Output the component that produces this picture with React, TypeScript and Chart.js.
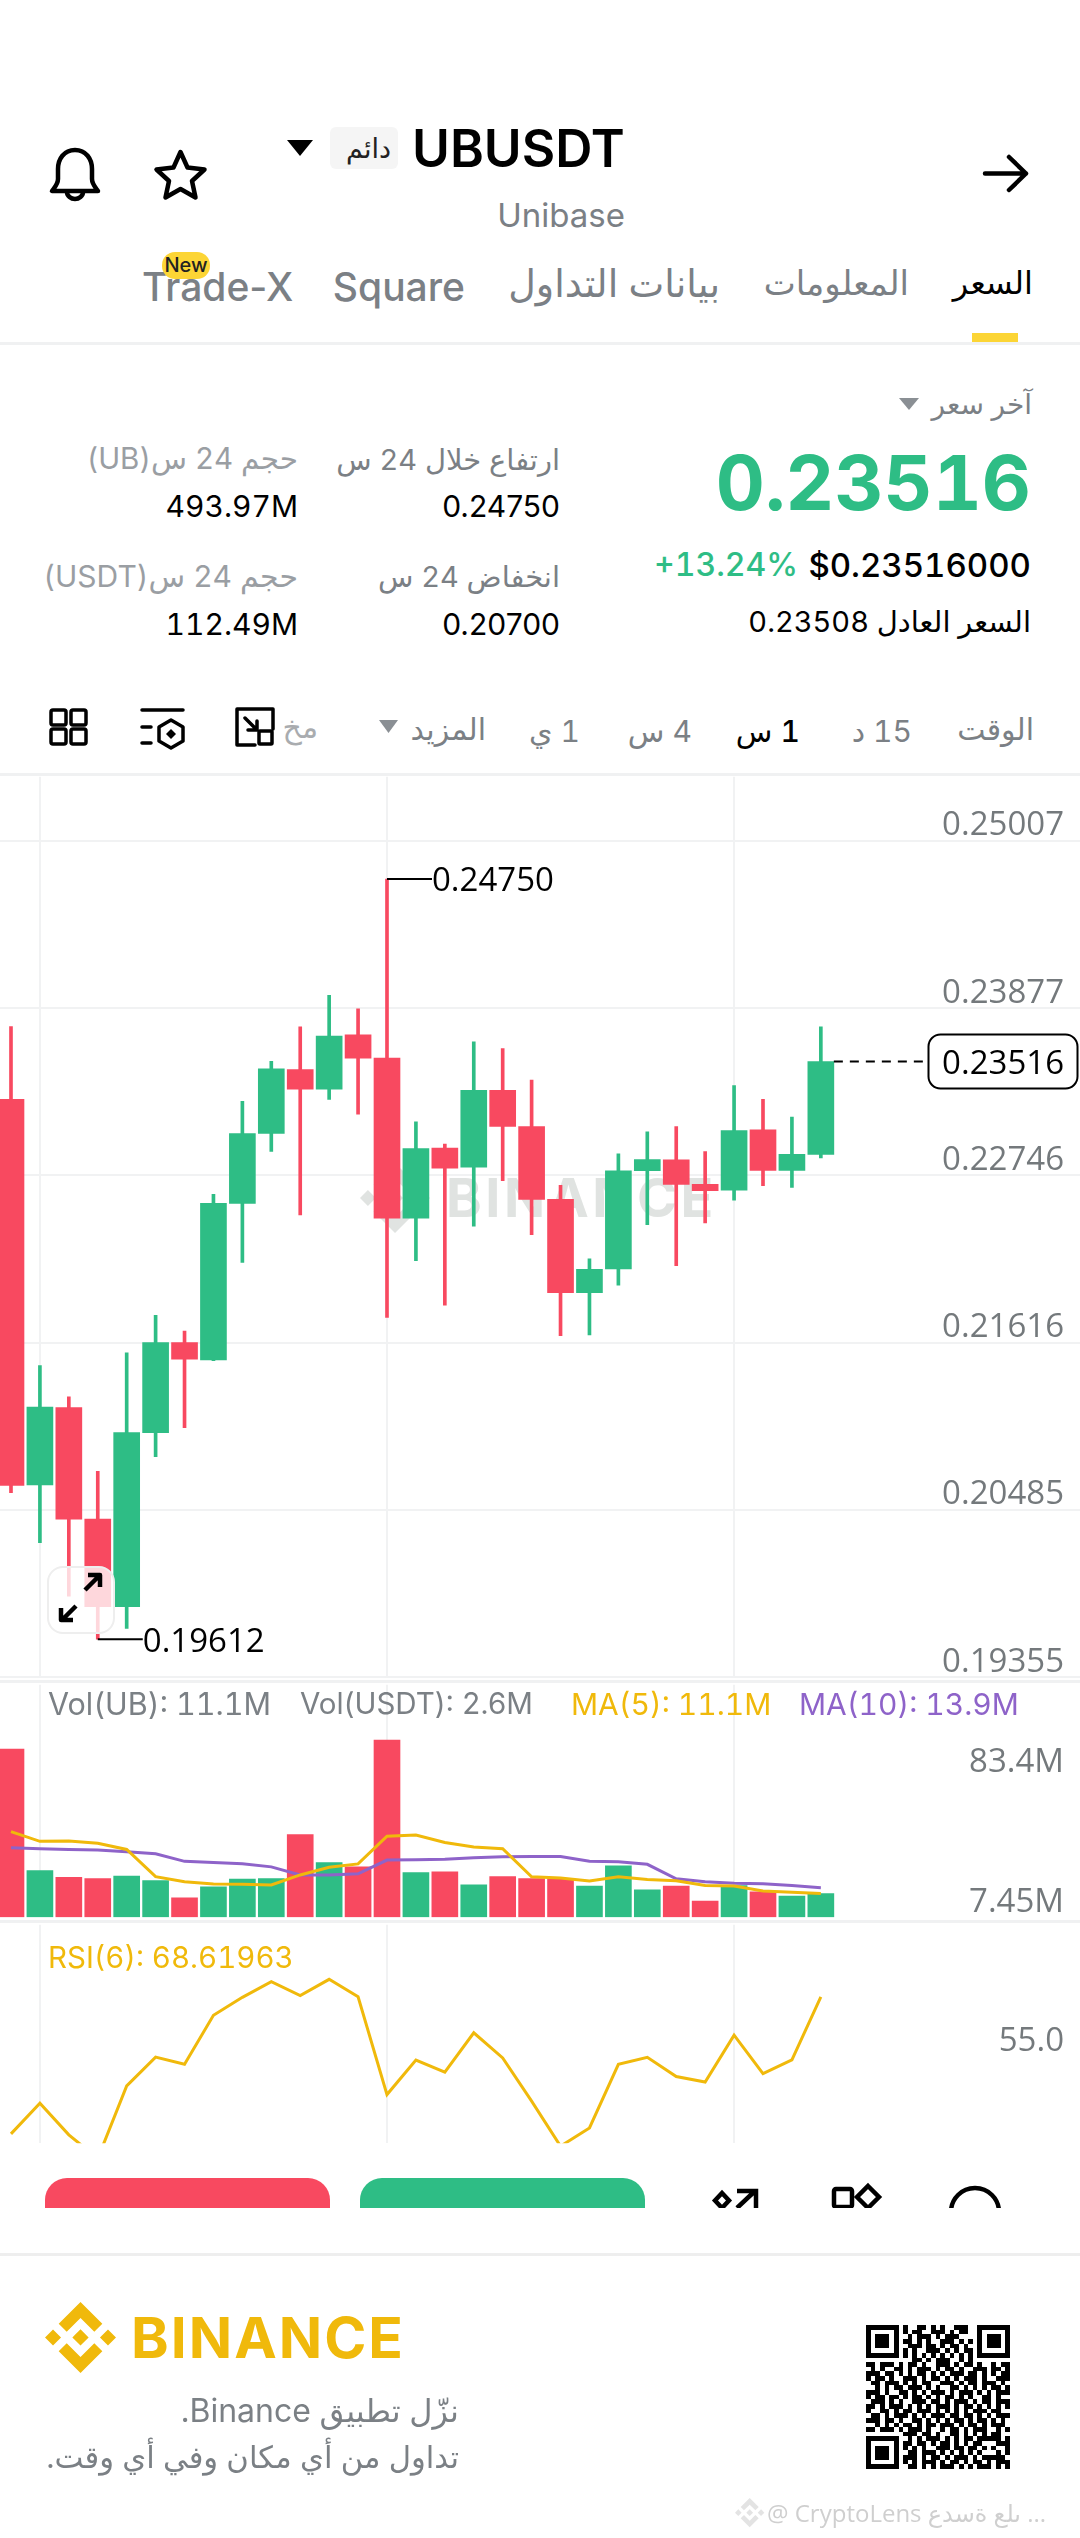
import React, { useEffect, useRef } from "react";
import { Chart, registerables } from "chart.js";

Chart.register(...registerables);

const UP = "#2ebd85";
const DOWN = "#f84960";
const GRID = "#f1f2f3";
const AXIS_TEXT = "#74797c";

// Price panel, one value per candle
const opens = [0.2326, 0.20655, 0.21178, 0.20423, 0.19831, 0.21008, 0.21616, 0.215, 0.22557, 0.2303, 0.23461, 0.23329, 0.23696, 0.23539, 0.22458, 0.22932, 0.22802, 0.23321, 0.23077, 0.22584, 0.21954, 0.22114, 0.22778, 0.22852, 0.22686, 0.22646, 0.23055, 0.2278, 0.22889];
const highs = [0.23752, 0.21462, 0.2125, 0.20747, 0.21547, 0.21801, 0.21694, 0.22619, 0.23247, 0.23517, 0.2375, 0.23964, 0.23872, 0.2475, 0.23108, 0.22959, 0.23649, 0.23604, 0.2339, 0.22679, 0.22183, 0.22892, 0.23041, 0.23077, 0.22907, 0.23354, 0.2326, 0.2314, 0.2375];
const lows = [0.20602, 0.20265, 0.19903, 0.19612, 0.19685, 0.20845, 0.21042, 0.21495, 0.22159, 0.22909, 0.2248, 0.2326, 0.2316, 0.21786, 0.2217, 0.2187, 0.22403, 0.22711, 0.22346, 0.21663, 0.21669, 0.22004, 0.22413, 0.22136, 0.22425, 0.22579, 0.22677, 0.22666, 0.22865];
const closes = [0.20651, 0.2118, 0.20423, 0.19831, 0.21008, 0.21616, 0.21504, 0.22557, 0.2303, 0.23466, 0.23329, 0.23689, 0.23539, 0.22458, 0.22927, 0.22795, 0.23321, 0.23077, 0.22584, 0.21954, 0.22112, 0.22778, 0.22854, 0.22686, 0.22644, 0.2305, 0.2278, 0.22889, 0.23516];
const priceTicks = [0.25007, 0.23877, 0.22746, 0.21616, 0.20485, 0.19355];
const lastPrice = 0.23516;
const highLabel = { index: 13, value: 0.2475, text: "0.24750" };
const lowLabel = { index: 3, value: 0.19612, text: "0.19612" };

// Volume panel, millions
const volumes = [79.1, 22, 18.8, 18.2, 19.4, 17.2, 9.1, 14.3, 17.9, 18.2, 38.9, 25.7, 23.7, 83.4, 21, 21.4, 15.2, 19.1, 18.2, 18.1, 14.6, 24.2, 12.9, 14.7, 7.6, 14.9, 12, 10, 11.1];
const ma5 = [40.3, 35.7, 35.9, 34.8, 31.9, 19.1, 16.7, 15.6, 15.5, 15.2, 19.9, 23.5, 25.1, 38.1, 38.7, 35.2, 33.1, 32.2, 19, 18.5, 17, 19, 17.8, 17.2, 14.9, 14.7, 12.3, 11.8, 11.1];
const ma10 = [32.7, 32.2, 31.9, 31.6, 30.8, 29.9, 26.3, 25.8, 25.2, 23.7, 19.9, 19.9, 20.4, 26.9, 27, 27.3, 28, 28.4, 28.6, 28.6, 26.3, 26.1, 24.9, 18.1, 16.7, 16, 15.8, 14.9, 13.9];
const volTickAt = [72.7, 6.8];
const volTickLabels = ["83.4M", "7.45M"];

// RSI panel
const rsi6 = [23, 33.2, 22.7, 14.8, 39, 48.6, 46.2, 62.5, 68.5, 73.7, 69.1, 74.5, 68.7, 36.1, 47.6, 43.6, 56.7, 48.3, 33.9, 18.9, 25, 46.2, 48.5, 42.1, 40.3, 55.9, 43.1, 47.7, 68.62];
const rsiTicks = [55];

const timeGridAt = [1, 13, 25];

// Decorative QR modules
const qrTop = ["#..##.#.#..###.", "#.##..###.#.##.", ".#.###.#.###...", "##.#.#..###.#.#", ".###.##.#.##.#.", "#.#..###.#.#.##", "#.#.#.#.#.#.#.#", "..##.#.###..#.#"];
const qrCenter = [
  "##.###.#.##.#..###.#.##.#..#.##",
  ".#.#..##.#.###.#.##.#..###.##.#",
  "###.##.#.#.##.#.#.###.##.#.#.##",
  "#.##.#..###.#.##.#.#.###.#..###",
  ".##.###.#.#.##..###.#.##.###.#.",
  "..#.#.##.###.#.#..##.#.#.#.##.#",
  "###.#..##.#.#.###.#.###.#.#.###",
  "#.##.##.#.##.#.#.##.#.#..##.#..",
  ".###.#.#..###.##.#.###.#.##.###",
  "##.#.###.#.#.#.###.#.##.#.#.#.#",
  "#..##.#.##.###.#.#.#.#.###.##..",
  ".##.#.###.#.#.###.##.##.#.#.###",
  "###.##.#..##.#.#.#.##.#.##.#.#.",
  "..#.#.#.##.#.##.###.#.##.#.###.",
  "##.###.#.###.#..#.##.#.###..#.#"
];
const qrBottom = ["###.##.#..##.#.#.#.##.", ".#.#.###.#.#.##.#####.#", "##.##.#.##.#.#.##...###", "#.#.#..###.##.##.#.#..#", ".##.###.#.#.#.#.#...#.#", "###.#.##.#.###.#.#####.", "#.#.###.#.##.#.##.#.###", ".##.#.#.###.#.#.###.#.#"];
const finderRows = ["#######", "#.....#", "#.###.#", "#.###.#", "#.###.#", "#.....#", "#######", "......."];

function buildQrRows(): string[] {
  const rows: string[] = [];
  qrTop.forEach((m, i) => rows.push(finderRows[i] + "." + m + "." + finderRows[i]));
  qrCenter.forEach((r) => rows.push(r));
  qrBottom.forEach((m, i) => rows.push(finderRows[i === 0 ? 7 : i - 1] + "." + m));
  return rows;
}

const LOGO = "M38.73 53.2l24.59-24.58 24.6 24.6 14.3-14.31L63.32 0 24.43 38.9l14.3 14.3zM0 63.31l14.3-14.31 14.31 14.31-14.31 14.3zM38.73 73.41l24.59 24.59 24.6-24.6 14.31 14.29-38.9 38.91-38.91-38.88-.02-.02zM98 63.31l14.3-14.3 14.31 14.3-14.31 14.3zM77.83 63.3L63.32 48.78 52.59 59.51l-1.24 1.23-2.54 2.54 14.51 14.5 14.51-14.47z";

const isUp = (i: number) => closes[i] >= opens[i];
const candleColors = opens.map((_, i) => (isUp(i) ? UP : DOWN));

function commonOptions(yMin: number, yMax: number, yTicks: number[], labels: string[], labelOffset: number): any {
  return {
    responsive: false,
    animation: false,
    events: [],
    layout: { padding: 0 },
    plugins: { legend: { display: false }, tooltip: { enabled: false } },
    scales: {
      x: {
        type: "linear",
        offset: false,
        min: -0.38,
        max: 36.96,
        afterBuildTicks: (a: any) => { a.ticks = timeGridAt.map((value) => ({ value })); },
        ticks: { display: false, autoSkip: false },
        grid: { offset: false, color: GRID, lineWidth: 2, drawTicks: false },
        border: { display: false },
      },
      y: {
        type: "linear",
        position: "right",
        min: yMin,
        max: yMax,
        afterBuildTicks: (a: any) => { a.ticks = yTicks.map((value) => ({ value })); },
        ticks: {
          mirror: true,
          padding: -16,
          autoSkip: false,
          labelOffset,
          color: AXIS_TEXT,
          font: { family: "'Open Sans'", size: 33 },
          callback: (_: any, i: number) => labels[i],
        },
        grid: { display: false, drawTicks: false },
        border: { display: false },
      },
    },
  };
}

const pricePlugin = {
  id: "priceMarks",
  beforeDatasetsDraw(chart: any) {
    const ctx = chart.ctx;
    ctx.save();
    ctx.fillStyle = "#e0e3e1";
    ctx.translate(360, 1163 - 773);
    ctx.scale(70 / 126.61, 70 / 126.61);
    ctx.fill(new Path2D(LOGO));
    ctx.restore();
    ctx.save();
    ctx.fillStyle = "#e0e3e1";
    ctx.font = "700 54px Inter";
    (ctx as any).letterSpacing = "3.5px";
    ctx.textBaseline = "alphabetic";
    ctx.fillText("BINANCE", 446, 1217 - 773);
    ctx.restore();
  },
  afterDatasetsDraw(chart: any) {
    const ctx = chart.ctx;
    const { x, y } = chart.scales;
    ctx.save();
    ctx.font = "33px 'Open Sans'";
    ctx.textBaseline = "middle";
    ctx.fillStyle = "#000";
    ctx.strokeStyle = "#000";
    ctx.lineWidth = 2;
    [highLabel, lowLabel].forEach((m) => {
      const px = x.getPixelForValue(m.index);
      const py = y.getPixelForValue(m.value);
      ctx.beginPath();
      ctx.moveTo(px, py);
      ctx.lineTo(px + 45, py);
      ctx.stroke();
      ctx.fillText(m.text, px + 45, py + 3);
    });
    const lastY = y.getPixelForValue(lastPrice);
    const lastX = x.getPixelForValue(closes.length - 1);
    ctx.setLineDash([9, 7]);
    ctx.beginPath();
    ctx.moveTo(lastX + 13, lastY);
    ctx.lineTo(924, lastY);
    ctx.stroke();
    ctx.setLineDash([]);
    ctx.beginPath();
    ctx.roundRect(928.5, lastY - 27, 149, 54, 12);
    ctx.fillStyle = "#fff";
    ctx.fill();
    ctx.stroke();
    ctx.fillStyle = "#000";
    ctx.textAlign = "right";
    ctx.fillText(lastPrice.toFixed(5), 1064, lastY + 3);
    ctx.restore();
  },
};

function T(p: any) {
  return (
    <div
      style={{
        position: "absolute",
        right: p.r != null ? 1080 - p.r : undefined,
        left: p.l,
        top: p.cy,
        transform: "translateY(-50%)",
        fontSize: p.s,
        color: p.c || "#000",
        fontWeight: p.w || 400,
        lineHeight: 1,
        whiteSpace: "nowrap",
        direction: p.rtl ? "rtl" : "ltr",
        fontVariantNumeric: p.prop ? "normal" : "tabular-nums",
        ...p.style,
      }}
    >
      {p.children}
    </div>
  );
}

function Rule({ y, h = 2, c = "#f0f1f2", l = 0, w = 1080 }: any) {
  return <div style={{ position: "absolute", left: l, top: y, width: w, height: h, background: c }} />;
}

export default function App() {
  const mainRef = useRef<HTMLCanvasElement>(null);
  const volRef = useRef<HTMLCanvasElement>(null);
  const rsiRef = useRef<HTMLCanvasElement>(null);

  useEffect(() => {
    const idx = opens.map((_, i) => i);
    const mainOpts = commonOptions(0.19355, 0.254406, priceTicks, priceTicks.map((v) => v.toFixed(5)), -15);
    mainOpts.scales.y.grid = { display: true, color: GRID, lineWidth: 2, drawTicks: false };
    const main = new Chart(mainRef.current as any, {
      type: "bar",
      data: {
        datasets: [
          { data: idx.map((i) => ({ x: i, y: [lows[i], highs[i]] })), backgroundColor: candleColors, barThickness: 3, grouped: false, order: 2 },
          { data: idx.map((i) => ({ x: i, y: [opens[i], closes[i]] })), backgroundColor: candleColors, barThickness: 26, grouped: false, order: 1 },
        ] as any,
      },
      options: mainOpts,
      plugins: [pricePlugin],
    });

    const vol = new Chart(volRef.current as any, {
      type: "bar",
      data: {
        datasets: [
          { type: "line", data: idx.map((i) => ({ x: i, y: ma10[i] })), borderColor: "#8e63c9", borderWidth: 3, pointRadius: 0, tension: 0, order: 1 },
          { type: "line", data: idx.map((i) => ({ x: i, y: ma5[i] })), borderColor: "#f0b90b", borderWidth: 3, pointRadius: 0, tension: 0, order: 0 },
          { data: idx.map((i) => ({ x: i, y: volumes[i] })), backgroundColor: candleColors, barThickness: 26, grouped: false, order: 2 },
        ] as any,
      },
      options: commonOptions(0, 109.4, volTickAt, volTickLabels, 0),
    });

    const rsi = new Chart(rsiRef.current as any, {
      type: "line",
      data: {
        datasets: [
          { data: idx.map((i) => ({ x: i, y: rsi6[i] })), borderColor: "#f0b90b", borderWidth: 3, pointRadius: 0, tension: 0 },
        ] as any,
      },
      options: commonOptions(19.9, 92.67, rsiTicks, rsiTicks.map((v) => v.toFixed(1)), 4),
    });

    return () => {
      main.destroy();
      vol.destroy();
      rsi.destroy();
    };
  }, []);

  const qr = buildQrRows();
  const qrSize = 144 / 31;
  const GRAY = "#7b8085";
  const LIGHT = "#9a9ea3";

  return (
    <div style={{ position: "absolute", left: 0, top: 0, width: 1080, height: 2538, overflow: "hidden", background: "#fff", fontFamily: "Inter, 'DejaVu Sans', sans-serif" }}>
      <Rule y={342} h={3} />
      <Rule y={773} h={3} />
      <Rule y={1680} h={3} />
      <Rule y={1920} h={3} />
      <Rule y={2253} h={3} c="#eeeeee" />
      <div style={{ position: "absolute", left: 972, top: 333, width: 46, height: 9, background: "#fcd535" }} />

      {/* Header */}
      <div style={{ position: "absolute", left: 330, top: 127, width: 68, height: 42, background: "#f5f5f5", borderRadius: 6 }} />
      <T l={346} cy={148} s={27} c="#222" rtl>دائم</T>
      <T l={412} cy={149} s={51.500} w={600}>UBUSDT</T>
      <T r={625} cy={215} s={33} c={GRAY}>Unibase</T>
      <T r={1033} cy={283} s={32}>السعر</T>
      <T r={909} cy={283} s={34} c={GRAY}>المعلومات</T>
      <T r={720} cy={283} s={38} c={GRAY}>بيانات التداول</T>
      <T r={465} cy={286} s={39} w={500} c={GRAY} prop>Square</T>
      <T l={142} cy={286} s={39} w={500} c={GRAY} prop>Trade-X</T>
      <div style={{ position: "absolute", left: 162, top: 252, width: 48, height: 27, background: "#fcd535", borderRadius: 13, textAlign: "center", fontSize: 20, lineHeight: "27px", fontWeight: 500, color: "#222" }}>New</div>

      {/* Price block */}
      <T r={1032} cy={404} s={28} c={GRAY} rtl>آخر سعر</T>
      <T r={1031} cy={482} s={76} w={700} c={UP}>0.23516</T>
      <T r={1031} cy={565} s={33} w={500}>$0.23516000</T>
      <T r={798} cy={565} s={32} w={500} c={UP}>+13.24%</T>
      <T r={1031} cy={621} s={29} rtl>السعر العادل 0.23508</T>
      <T r={560} cy={459} s={29} c={GRAY} rtl>ارتفاع خلال 24 س</T>
      <T r={560} cy={506} s={30} prop>0.24750</T>
      <T r={298} cy={459} s={29.500} c={LIGHT} rtl>حجم 24 س(UB)</T>
      <T r={298} cy={506} s={30}>493.97M</T>
      <T r={560} cy={576} s={29} c={GRAY} rtl>انخفاض 24 س</T>
      <T r={560} cy={624} s={30} prop>0.20700</T>
      <T r={298} cy={576} s={30} c={LIGHT} rtl>حجم 24 س(USDT)</T>
      <T r={298} cy={624} s={30}>112.49M</T>

      {/* Interval row */}
      <T r={1034} cy={729} s={30} c={GRAY} rtl>الوقت</T>
      <T r={912} cy={731} s={30} c={GRAY} rtl>15 د</T>
      <T r={800} cy={731} s={30} w={500} rtl>1 س</T>
      <T r={692} cy={731} s={30} c={GRAY} rtl>4 س</T>
      <T r={580} cy={731} s={30} c={GRAY} rtl>1 ي</T>
      <T r={486} cy={729} s={30} c={GRAY} rtl>المزيد</T>
      <T r={318} cy={727} s={30} c="#a9acaf" rtl>مخ</T>

      {/* Chart panels */}
      <canvas ref={mainRef} width={1080} height={908} style={{ position: "absolute", left: 0, top: 773, width: 1080, height: 908 }} />
      <canvas ref={volRef} width={1080} height={240} style={{ position: "absolute", left: 0, top: 1681, width: 1080, height: 240 }} />
      <canvas ref={rsiRef} width={1080} height={226} style={{ position: "absolute", left: 0, top: 1921, width: 1080, height: 226 }} />

      <T l={48} cy={1704} s={30.500} c={GRAY}>Vol(UB): 11.1M</T>
      <T l={300} cy={1704} s={29.500} c={GRAY} prop>Vol(USDT): 2.6M</T>
      <T l={571} cy={1704} s={30} c="#f0b90b">MA(5): 11.1M</T>
      <T l={799} cy={1704} s={30} c="#8e63c9">MA(10): 13.9M</T>
      <T l={48} cy={1958} s={29.500} c="#f0b90b">RSI(6): 68.61963</T>

      {/* Zoom button */}
      <div style={{ position: "absolute", left: 47, top: 1566, width: 64, height: 64, border: "2px solid #eeeeee", borderRadius: 16, background: "rgba(255,255,255,0.78)" }} />

      {/* Bottom actions */}
      <div style={{ position: "absolute", left: 45, top: 2178, width: 285, height: 30, background: DOWN, borderRadius: "22px 22px 0 0" }} />
      <div style={{ position: "absolute", left: 360, top: 2178, width: 285, height: 30, background: UP, borderRadius: "22px 22px 0 0" }} />

      <svg width={1080} height={2538} viewBox="0 0 1080 2538" style={{ position: "absolute", left: 0, top: 0, pointerEvents: "none" }}>
        <defs>
          <clipPath id="barClip"><rect x="700" y="2170" width="320" height="38" /></clipPath>
        </defs>
        {/* header triangles */}
        <path d="M287 140h26l-13 16z" fill="#000" />
        <path d="M899 398h20l-10 12z" fill="#8a8f94" />
        <path d="M379 720h19l-9.5 13z" fill="#8a8f94" />
        {/* bell */}
        <g fill="none" stroke="#000" strokeWidth="4.5" strokeLinejoin="round" strokeLinecap="round">
          <path d="M75 150c-11 0-17 9-17 19v10c0 5-3 8-6 12h46c-3-4-6-7-6-12v-10c0-10-6-19-17-19z" />
          <path d="M67 192c0 4 4 7 8 7s8-3 8-7" />
          {/* star */}
          <path d="M180.500 152l7 15.500 17 2-12.500 11.500 3.500 16.500-15-8.500-15 8.500 3.500-16.500-12.500-11.500 17-2z" />
          {/* back arrow */}
          <path d="M985 173.500h41M1009 157l17 16.500-17 16.500" />
          {/* interval icons */}
          <g strokeWidth="3.500">
            <rect x="51" y="710" width="15" height="15" rx="2" />
            <rect x="71" y="710" width="15" height="15" rx="2" />
            <rect x="51" y="729" width="15" height="15" rx="2" />
            <rect x="71" y="729" width="15" height="15" rx="2" />
            <path d="M142 710h41M142 727h9M142 743h9" />
            <path d="M171 720l12 7v14l-12 7-12-7v-14z" />
            <path d="M255 745h-18v-36h36v20M245 718l12 12M257 721v9h-9" />
            <rect x="259" y="731" width="13" height="13" rx="1" />
          </g>
          {/* zoom arrows */}
          <g strokeWidth="4.500" strokeLinecap="butt">
            <path d="M85 1590l15-15M88 1575h12v12" />
            <path d="M76 1606l-14 14M61 1608v12h12" />
          </g>
        </g>
        <path d="M171 729l5 5-5 5-5-5z" fill="#000" />
        {/* bottom icons */}
        <g clipPath="url(#barClip)" fill="none" stroke="#000" strokeWidth="4.500">
          <path d="M722 2193l7 7.500-7 7.500-7-7.500z" />
          <path d="M737 2208l18-17M737 2191h19v17" />
          <rect x="834" y="2189" width="18" height="18" rx="2" />
          <path d="M868 2186l11 11-11 11-11-11z" />
          <circle cx="975" cy="2212" r="24" />
        </g>
        {/* footer logo */}
        <g transform="translate(45 2302) scale(0.5608)"><path d={LOGO} fill="#f0b90b" /></g>
        {/* QR */}
        <g fill="#000" shapeRendering="crispEdges">
          {qr.map((row, r) =>
            row.split("").map((ch, c) =>
              ch === "#" ? <rect key={r + "-" + c} x={866 + c * qrSize} y={2325 + r * qrSize} width={qrSize} height={qrSize} /> : null
            )
          )}
        </g>
        {/* page watermark logo */}
        <g transform="translate(735 2498) scale(0.232)" opacity="0.28"><path d={LOGO} fill="#9a9a9a" /></g>
      </svg>

      {/* Footer */}
      <T l={131} cy={2337} s={57} w={700} c="#f0b90b" style={{ letterSpacing: 2 }}>BINANCE</T>
      <T r={459} cy={2411} s={32} c={GRAY} rtl>نزّل تطبيق Binance.</T>
      <T r={459} cy={2457} s={30.700} c={GRAY} rtl>تداول من أي مكان وفي أي وقت.</T>
      <div style={{ position: "absolute", left: 767, top: 2499, fontSize: 24, lineHeight: "28px", color: "#cfcfcf", whiteSpace: "nowrap", direction: "ltr", unicodeBidi: "bidi-override", fontFamily: "'Open Sans', 'DejaVu Sans', sans-serif" }}>@ CryptoLens عدسة على ...</div>
    </div>
  );
}
